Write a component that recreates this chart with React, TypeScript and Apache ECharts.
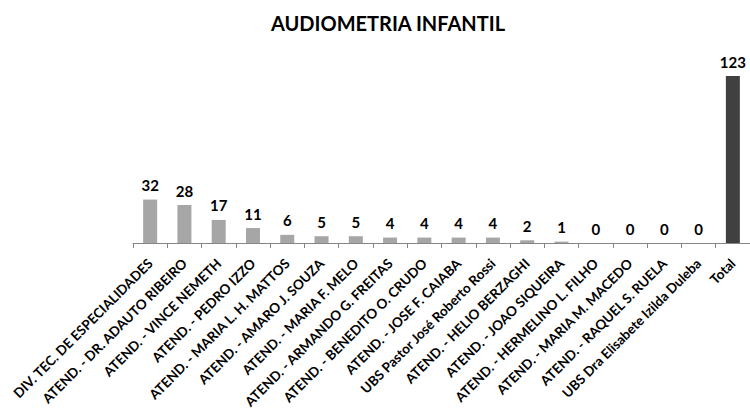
import React, { useEffect, useRef } from "react";
import * as echarts from "echarts";

const categories = [
  "DIV. TEC. DE ESPECIALIDADES",
  "ATEND. - DR. ADAUTO RIBEIRO",
  "ATEND. - VINCE NEMETH",
  "ATEND. - PEDRO IZZO",
  "ATEND. - MARIA L. H. MATTOS",
  "ATEND. - AMARO J. SOUZA",
  "ATEND. - MARIA F. MELO",
  "ATEND. - ARMANDO G. FREITAS",
  "ATEND. - BENEDITO O. CRUDO",
  "ATEND. - JOSE F. CAIABA",
  "UBS Pastor José Roberto Rossi",
  "ATEND. - HELIO BERZAGHI",
  "ATEND. - JOAO SIQUEIRA",
  "ATEND. - HERMELINO L. FILHO",
  "ATEND. - MARIA M. MACEDO",
  "ATEND. - RAQUEL S. RUELA",
  "UBS Dra Elisabete Izilda Duleba",
  "Total",
];
const values = [32, 28, 17, 11, 6, 5, 5, 4, 4, 4, 4, 2, 1, 0, 0, 0, 0, 123];
const title = "AUDIOMETRIA INFANTIL";

export default function App() {
  const ref = useRef<HTMLDivElement>(null);
  useEffect(() => {
    if (!ref.current) return;
    const chart = echarts.init(ref.current, null, { renderer: "svg" });
    const font = "Lato, 'Open Sans', sans-serif";
    chart.setOption({
      animation: false,
      title: {
        text: title,
        left: 383,
        textAlign: "center",
        top: 8,
        textStyle: { fontFamily: font, fontWeight: "bold", fontSize: 20, color: "#000" },
      },
      grid: { left: 133, top: 53, width: 623, height: 190, containLabel: false },
      xAxis: {
        type: "category",
        data: categories,
        axisLine: { lineStyle: { color: "#868686", width: 1 } },
        axisTick: { show: true, length: 5, lineStyle: { color: "#868686" } },
        axisLabel: {
          interval: 0,
          rotate: 45,
          margin: 18,
          fontFamily: font,
          fontWeight: "bold",
          fontSize: 13.5,
          color: "#000",
        },
      },
      yAxis: { type: "value", min: 0, max: 140, show: false, splitLine: { show: false } },
      series: [
        {
          type: "bar",
          barWidth: 14,
          data: values.map((v, i) => ({
            value: v,
            itemStyle: { color: i === values.length - 1 ? "#404040" : "#a6a6a6" },
          })),
          label: {
            show: true,
            position: "top",
            distance: 7,
            fontFamily: font,
            fontWeight: "bold",
            fontSize: 15,
            color: "#000",
          },
        },
      ],
    });
    return () => chart.dispose();
  }, []);
  return <div ref={ref} style={{ width: 750, height: 412, position: "absolute", left: 0, top: 0 }} />;
}
